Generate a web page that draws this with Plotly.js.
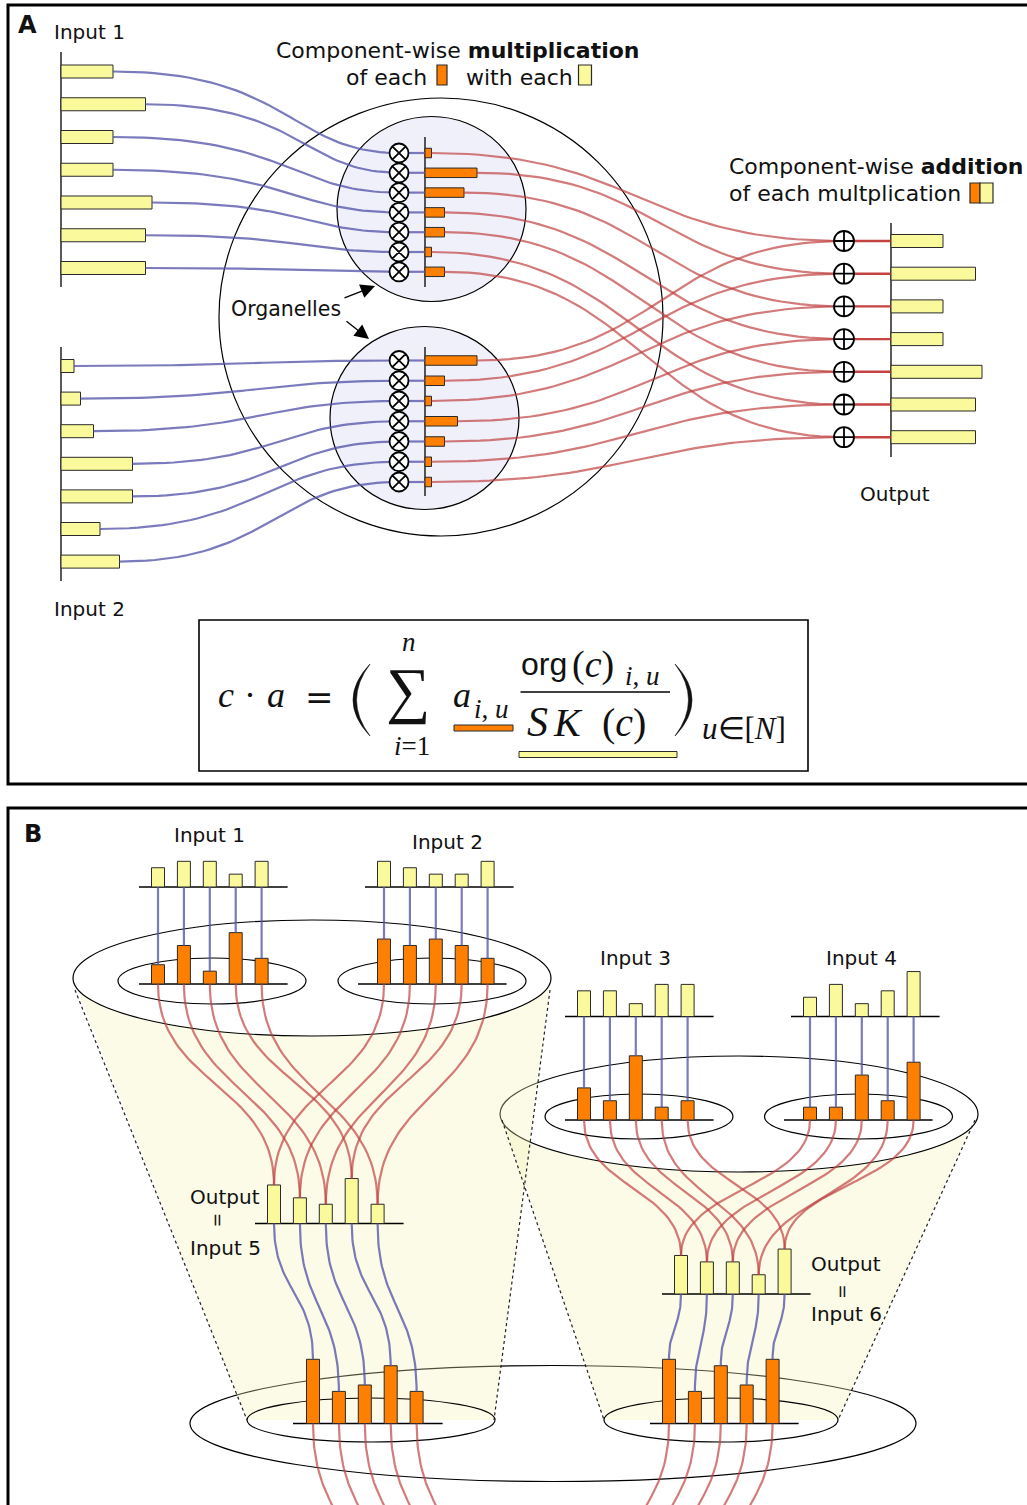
<!DOCTYPE html>
<html><head><meta charset="utf-8">
<script src="https://cdn.plot.ly/plotly-3.0.1.min.js"></script>
<style>html,body{margin:0;padding:0;background:#fff}</style>
</head><body><div id="chart" style="width:1027px;height:1505px"></div>
<script>
// ---------------- DATA (bar lengths in value units) ----------------
// Panel A
const aInput1 = [8, 13, 8, 8, 14, 13, 13];
const aInput2 = [2, 3, 5, 11, 11, 6, 9];
const aOrg1   = [1, 8, 6, 3, 3, 1, 3];
const aOrg2   = [8, 3, 1, 5, 3, 1, 1];
const aOutput = [8, 13, 8, 8, 14, 13, 13];
// Panel B
const bInput1 = [3, 4, 4, 2, 4];
const bOrg1   = [3, 6, 2, 8, 4];
const bInput2 = [4, 3, 2, 2, 4];
const bOrg2   = [7, 6, 7, 6, 4];
const bInput3 = [4, 4, 2, 5, 5];
const bOrg3   = [5, 3, 10, 2, 3];
const bInput4 = [3, 5, 2, 4, 7];
const bOrg4   = [2, 2, 7, 3, 9];
const bOutput5 = [6, 4, 3, 7, 3];
const bOutput6 = [6, 5, 5, 3, 7];
const bOrg5   = [10, 5, 6, 9, 5];
const bOrg6   = [10, 5, 9, 6, 10];

// ---------------- STYLE / GEOMETRY ----------------
const UA = 6.5, UB = 6.42;
const YEL = '#fafa9c', ORG = '#ff8000', EDGE = '#2a2a2a';
const BLUE = 'rgba(85,85,170,0.78)', RED = 'rgba(190,60,60,0.68)', DRED = 'rgba(190,45,45,0.9)';
const FONT = 'DejaVu Sans', SERIF = 'Liberation Serif';

function bez(p0,p1,p2,p3,n){n=n||48;const xs=[],ys=[];for(let k=0;k<=n;k++){const t=k/n,u=1-t;const a=u*u*u,b=3*u*u*t,c=3*u*t*t,d=t*t*t;xs.push(a*p0[0]+b*p1[0]+c*p2[0]+d*p3[0]);ys.push(a*p0[1]+b*p1[1]+c*p2[1]+d*p3[1]);}return [xs,ys];}
function hS(x0,y0,x1,y1,f){const xm=x0+f*(x1-x0);return bez([x0,y0],[xm,y0],[xm,y1],[x1,y1]);}
function vS(x0,y0,x1,y1,f){const ym=y0+f*(y1-y0);return bez([x0,y0],[x0,ym],[x1,ym],[x1,y1]);}
const traces = [];
function curve(p,color,w){traces.push({type:'scatter',mode:'lines',x:p[0],y:p[1],line:{color:color,width:w||2.2},hoverinfo:'skip',showlegend:false});}
function idx(n,s,d){return Array.from({length:n},(_,i)=>s+i*d);}

// Panel A positions
const inX = 61, otX = 399, orgX = 425, opX = 844, outX = 891;
const in1Y = idx(7, 71.5, 32.75), in2Y = idx(7, 366, 32.6);
const org1Y = idx(7, 153, 19.8), org2Y = idx(7, 360.5, 20.25);
const outY = idx(7, 241, 32.7);

// blue curves input -> organelle
aInput1.forEach((v,i)=>curve(hS(inX+v*UA, in1Y[i], otX, org1Y[i], 0.62), BLUE));
aInput2.forEach((v,i)=>curve(hS(inX+v*UA, in2Y[i], otX, org2Y[i], 0.55), BLUE));
// short blue segments otimes -> organelle axis
{const x=[],y=[];org1Y.concat(org2Y).forEach(yy=>{x.push(otX,orgX,null);y.push(yy,yy,null);});
 traces.push({type:'scatter',mode:'lines',x,y,line:{color:BLUE,width:2.2},hoverinfo:'skip'});}
// red curves organelle -> oplus
aOrg1.forEach((v,i)=>curve(hS(orgX+v*UA, org1Y[i], opX, outY[i], 0.5), RED));
aOrg2.forEach((v,i)=>curve(hS(orgX+v*UA, org2Y[i], opX, outY[i], 0.5), RED));
{const x=[],y=[];outY.forEach(yy=>{x.push(opX,outX,null);y.push(yy,yy,null);});
 traces.push({type:'scatter',mode:'lines',x,y,line:{color:DRED,width:2.4},hoverinfo:'skip'});}

// horizontal bars
function hBar(vals,base,ys,w,color){traces.push({type:'bar',orientation:'h',base:base,x:vals.map(v=>v*UA),y:ys,width:w,
  marker:{color:color,line:{color:EDGE,width:1}},hoverinfo:'skip',showlegend:false});}
hBar(aInput1, inX, in1Y, 13, YEL);
hBar(aInput2, inX, in2Y, 13, YEL);
hBar(aOrg1, orgX, org1Y, 9.5, ORG);
hBar(aOrg2, orgX, org2Y, 9.5, ORG);
hBar(aOutput, outX, outY, 13, YEL);

// Panel B positions
const dB = 25.9;
const G = {
  in1:{x0:158,base:887}, org1:{x0:158,base:984},
  in2:{x0:384,base:887}, org2:{x0:384,base:984},
  in3:{x0:584,base:1016.5}, org3:{x0:584,base:1120},
  in4:{x0:810,base:1016.5}, org4:{x0:810,base:1120},
  out5:{x0:274,base:1223.5}, org5:{x0:313,base:1423.5},
  out6:{x0:681,base:1294}, org6:{x0:669,base:1423.5}
};
const xs = g => idx(5, g.x0, dB);
const topY = (g,vals,i) => g.base - vals[i]*UB;

// blue vertical links input -> organelle
[[G.in1,G.org1,bOrg1],[G.in2,G.org2,bOrg2],[G.in3,G.org3,bOrg3],[G.in4,G.org4,bOrg4]].forEach(([gi,go,vo])=>{
  const x=[],y=[];xs(gi).forEach((xx,i)=>{x.push(xx,xx,null);y.push(gi.base,topY(go,vo,i),null);});
  traces.push({type:'scatter',mode:'lines',x,y,line:{color:BLUE,width:2.2},hoverinfo:'skip'});
});
// red curves organelles -> outputs
[[G.org1,G.out5,bOutput5],[G.org2,G.out5,bOutput5],[G.org3,G.out6,bOutput6],[G.org4,G.out6,bOutput6]].forEach(([go,gt,vt])=>{
  const xo=xs(go), xt=xs(gt);
  xo.forEach((xx,i)=>curve(vS(xx, go.base, xt[i], topY(gt,vt,i), 0.5), RED));
});
// blue S-curves outputs -> next organelles
[[G.out5,G.org5,bOrg5],[G.out6,G.org6,bOrg6]].forEach(([gi,go,vo])=>{
  const xi=xs(gi), xo=xs(go);
  xi.forEach((xx,i)=>curve(vS(xx, gi.base, xo[i], topY(go,vo,i), 0.5), BLUE));
});
// red curves leaving the bottom organelles
xs(G.org5).forEach(xx=>curve(vS(xx, G.org5.base, xx+45, 1600, 0.5), RED));
xs(G.org6).forEach(xx=>curve(vS(xx, G.org6.base, xx-53, 1600, 0.5), RED));

// vertical bars
function vBar(vals,g,color){traces.push({type:'bar',x:xs(g),y:vals.map(v=>-v*UB),base:g.base,width:13,
  marker:{color:color,line:{color:EDGE,width:1}},hoverinfo:'skip',showlegend:false});}
vBar(bInput1,G.in1,YEL); vBar(bOrg1,G.org1,ORG);
vBar(bInput2,G.in2,YEL); vBar(bOrg2,G.org2,ORG);
vBar(bInput3,G.in3,YEL); vBar(bOrg3,G.org3,ORG);
vBar(bInput4,G.in4,YEL); vBar(bOrg4,G.org4,ORG);
vBar(bOutput5,G.out5,YEL); vBar(bOrg5,G.org5,ORG);
vBar(bOutput6,G.out6,YEL); vBar(bOrg6,G.org6,ORG);

// otimes / oplus markers
traces.push({type:'scatter',mode:'markers',x:org1Y.concat(org2Y).map(()=>otX),y:org1Y.concat(org2Y),
  marker:{symbol:'circle-x',size:19,color:'#fff',line:{color:'#000',width:1.8}},hoverinfo:'skip'});
traces.push({type:'scatter',mode:'markers',x:outY.map(()=>opX),y:outY,
  marker:{symbol:'circle-cross',size:20,color:'#fff',line:{color:'#000',width:1.8}},hoverinfo:'skip'});

// ---------------- SHAPES ----------------
const shapes = [];
function S(o){o.xref='x';o.yref='y';if(!o.layer)o.layer='below';shapes.push(o);}
function rect(x0,y0,x1,y1,fill,lw,lc){S({type:'rect',x0,y0,x1,y1,fillcolor:fill||'rgba(0,0,0,0)',line:{color:lc||'#000',width:lw===undefined?1:lw}});}
function ell(cx,cy,rx,ry,fill,lw){S({type:'circle',x0:cx-rx,x1:cx+rx,y0:cy-ry,y1:cy+ry,fillcolor:fill||'rgba(0,0,0,0)',line:{color:'#000',width:lw||1.2}});}
function seg(x0,y0,x1,y1,lw,dash,lc){S({type:'line',x0,y0,x1,y1,line:{color:lc||'#000',width:lw||1.2,dash:dash||'solid'}});}
function poly(pts,fill){S({type:'path',path:'M'+pts.map(p=>p[0]+','+p[1]).join('L')+'Z',fillcolor:fill,line:{width:0}});}
function pth(d,fill){S({type:'path',path:d,fillcolor:fill,line:{color:fill,width:0.6}});}

// frames
rect(8,5,1045,784,null,3);
rect(8,808,1045,1530,null,3);
// panel A
ell(441,317,222,219,null,1.2);
ell(431.5,209,94.5,92.5,'#f0f0fa',1.2);
ell(424.5,418,94.5,91.5,'#f0f0fa',1.2);
seg(inX,52,inX,287,1.3); seg(inX,347,inX,581,1.3);
seg(orgX,137,orgX,287,1.3); seg(orgX,347,orgX,496,1.3);
seg(outX,223,outX,457,1.3);
// heading swatches
rect(437,65,447,85,ORG,1.2,EDGE); rect(578.5,65,591.5,85,YEL,1.2,EDGE);
rect(970,183,980,203,ORG,1.2,EDGE); rect(980,183,993,203,YEL,1.2,EDGE);
// formula box
rect(199,620,808,771,'#fff',1.6);
seg(520.5,692,670,692,1.5);
rect(454,725,513,731,ORG,1,EDGE);
rect(519,751.5,677,757.5,YEL,1,EDGE);
// big parentheses (thin crescents)
pth('M370,664 Q336,700 370,736 Q343,700 370,664 Z','#111');
pth('M675,664 Q709,700 675,736 Q702,700 675,664 Z','#111');

// panel B
const CONE = 'rgba(244,244,180,0.32)';
ell(553,1423.5,363,58,null,1.2);
poly([[501,1114],[977,1114],[838,1420],[604,1420]],CONE);
ell(739,1114,239,58,'#fff',1.2);
ell(639,1116.5,94,22.5,null,1.2); ell(858.5,1116.5,94,22.5,null,1.2);
poly([[73,978],[551,978],[494,1420],[247,1420]],CONE);
ell(312,978,239,58,'#fff',1.2);
ell(212,981,94,23,null,1.2); ell(432,981,94,23,null,1.2);
ell(371,1420,124,22,null,1.2); ell(721,1420,117,22,null,1.2);
seg(75,990,247,1420,1.2,'3px,3px','#222'); seg(550,990,494,1420,1.2,'3px,3px','#222');
seg(502,1120,604,1420,1.2,'3px,3px','#222'); seg(975,1120,838,1420,1.2,'3px,3px','#222');
// baselines
[['in1',-19,26],['org1',-19,26],['in2',-19,26],['org2',-26,19],['in3',-19,26],['org3',-19,26],
 ['in4',-19,26],['org4',-26,19],['out5',-19,26],['org5',-20,26],['out6',-19,26],['org6',-19,26]].forEach(([k,l,r])=>{
  const g=G[k]; seg(g.x0+l,g.base,g.x0+4*dB+r,g.base,1.3);
});

// ---------------- ANNOTATIONS ----------------
const ann = [];
function T(text,x,y,opt){opt=opt||{};ann.push(Object.assign({text,x,y,xref:'x',yref:'y',showarrow:false,
  xanchor:opt.xa||'left',yanchor:'middle',font:{family:opt.fam||FONT,size:opt.size||20,color:'#111'}},opt.extra||{}));}
T('<b>A</b>',27.5,25,{xa:'center',size:24});
T('Input 1',52,31.5);
T('Component-wise <b>multiplication</b>',457.5,50,{xa:'center',size:22});
T('of each',344,77,{size:22});
T('with each',464,77,{size:22});
T('Component-wise <b>addition</b>',727,166.5,{size:22});
T('of each multplication',727,193,{size:22});
T('Organelles',229,308.5,{size:20.5});
T('Input 2',52,609);
T('Output',895,494,{xa:'center'});
// arrows
ann.push({x:375,y:286,ax:343,ay:298.5,axref:'x',ayref:'y',xref:'x',yref:'y',text:'',showarrow:true,arrowhead:2,arrowsize:2.2,arrowwidth:1.3,arrowcolor:'#000',standoff:0,startstandoff:0});
ann.push({x:369,y:339,ax:345,ay:320,axref:'x',ayref:'y',xref:'x',yref:'y',text:'',showarrow:true,arrowhead:2,arrowsize:2.2,arrowwidth:1.3,arrowcolor:'#000',standoff:0,startstandoff:0});
// formula
T('<i>c</i>',226,695,{xa:'center',size:36,fam:SERIF});
T('·',250,695,{xa:'center',size:36,fam:SERIF});
T('<i>a</i>',276,695,{xa:'center',size:36,fam:SERIF});
T('=',319.5,697,{xa:'center',size:34,fam:'DejaVu Serif'});
T('∑',408,690,{xa:'center',size:62,fam:SERIF});
T('<i>n</i>',409,642,{xa:'center',size:27,fam:SERIF});
T('<i>i</i>=1',412,746,{xa:'center',size:27,fam:SERIF});
T('<i>a</i>',462,695,{xa:'center',size:36,fam:SERIF});
T('<i>i</i>, <i>u</i>',491,709,{xa:'center',size:27,fam:SERIF});
T('org',544,664,{xa:'center',size:32,fam:'Liberation Sans'});
T('(<i>c</i>)',592.5,664,{xa:'center',size:38,fam:SERIF});
T('<i>i</i>, <i>u</i>',642,676,{xa:'center',size:27,fam:SERIF});
T('<i>S</i>',537,722,{xa:'center',size:42,fam:SERIF});
T('<i>K</i>',568,722,{xa:'center',size:40,fam:SERIF});
T('(<i>c</i>)',624,722,{xa:'center',size:40,fam:SERIF});
T('<i>u</i>∈[<i>N</i>]',744,728,{xa:'center',size:31,fam:SERIF});
// panel B labels
T('<b>B</b>',33,833.5,{xa:'center',size:24});
T('Input 1',209,834.5,{xa:'center'});
T('Input 2',447.5,841.5,{xa:'center'});
T('Input 3',635.5,957.5,{xa:'center'});
T('Input 4',861,957.5,{xa:'center'});
T('Output',187.5,1197);
T('=',218,1220,{xa:'center',size:17,extra:{textangle:90}});
T('Input 5',188,1247.5);
T('Output',809,1264);
T('=',843,1291.5,{xa:'center',size:17,extra:{textangle:90}});
T('Input 6',809,1314);

const layout = {
  width:1027,height:1505,margin:{l:0,r:0,t:0,b:0},
  paper_bgcolor:'#ffffff',plot_bgcolor:'rgba(0,0,0,0)',
  xaxis:{range:[0,1027],visible:false,fixedrange:true},
  yaxis:{range:[1505,0],visible:false,fixedrange:true},
  barmode:'overlay',showlegend:false,hovermode:false,
  shapes:shapes,annotations:ann
};
Plotly.newPlot('chart',traces,layout,{staticPlot:true,displayModeBar:false});
</script></body></html>
